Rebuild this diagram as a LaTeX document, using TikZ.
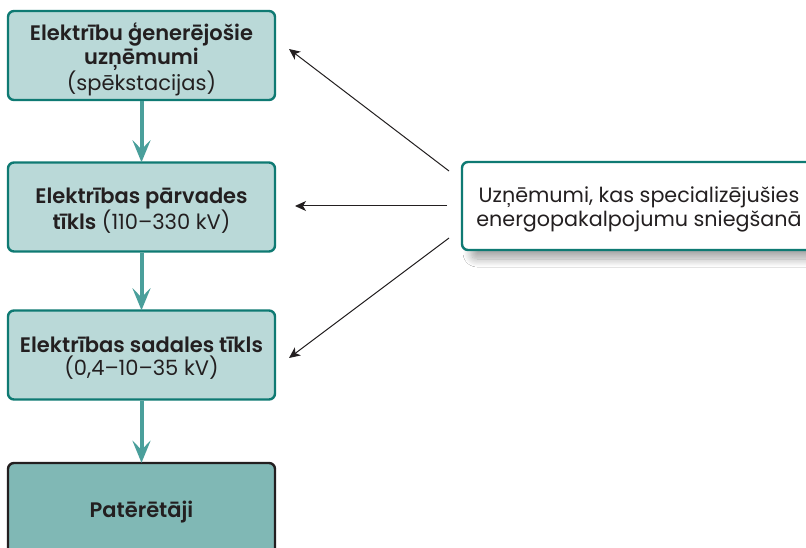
\documentclass[tikz,border=0pt]{standalone}
\usepackage{fontspec}
\setmainfont{Poppins}[BoldFont={Poppins SemiBold}]
\usetikzlibrary{arrows.meta,shadows.blur}
\definecolor{boxfill}{HTML}{BAD9D8}
\definecolor{boxline}{HTML}{0F7A73}
\definecolor{endfill}{HTML}{80B8B5}
\definecolor{flow}{HTML}{4A9F9B}
\definecolor{ink}{HTML}{231F20}
\tikzset{
  boxtext/.style={align=center, text=ink, inner sep=0pt, font=\fontsize{21}{23.5}\selectfont},
  stagebox/.style={draw=boxline, line width=2.4pt, fill=boxfill, rounded corners=6pt,
    minimum width=267pt, minimum height=89pt},
  endbox/.style={stagebox, draw=ink, fill=endfill, minimum height=98pt},
  infobox/.style={draw=boxline, line width=2.4pt, fill=white, rounded corners=6pt,
    minimum width=354pt, minimum height=88pt,
    blur shadow={shadow xshift=9pt, shadow yshift=-9pt, shadow opacity=35, shadow blur steps=12, shadow blur radius=8pt}},
  flowarrow/.style={draw=flow, line width=4pt, -{Stealth[length=22pt,width=18pt,inset=9pt]}},
  linkarrow/.style={draw=ink, line width=1pt, -{Stealth[length=11pt,width=10pt,inset=3pt]}}
}
\begin{document}
\begin{tikzpicture}[x=1pt,y=-1pt]
\useasboundingbox[fill=white] (0,0) rectangle (806,548);
\node[stagebox, label={[boxtext, yshift=-4pt]center:{\textbf{Elektrību ģenerējošie}\\\textbf{uzņēmumi}\\(spēkstacijas)}}] (gen) at (141.5,55.5) {};
\node[stagebox, label={[boxtext, yshift=-4pt]center:{\textbf{Elektrības pārvades}\\\textbf{tīkls} (110–330 kV)}}] (trans) at (141.5,207) {};
\node[stagebox, label={[boxtext, yshift=-3pt]center:{\textbf{Elektrības sadales tīkls}\\(0,4–10–35 kV)}}] (dist) at (141.5,355) {};
\node[endbox, label={[boxtext]center:{\textbf{Patērētāji}}}] (cons) at (141.5,512) {};
\node[infobox, label={[boxtext, font=\fontsize{20.7}{23.5}\selectfont, yshift=-3.5pt]center:{Uzņēmumi, kas specializējušies\\energopakalpojumu sniegšanā}}] (serv) at (639,206) {};
\draw[flowarrow] (gen.south) -- ([yshift=-1pt]trans.north);
\draw[flowarrow] (trans.south) -- ([yshift=-1pt]dist.north);
\draw[flowarrow] (dist.south) -- ([yshift=-1pt]cons.north);
\coordinate (s1) at (449,171);
\coordinate (e1) at (289,49);
\coordinate (s2) at (447,206);
\coordinate (e2) at (295,206);
\coordinate (s3) at (449,238);
\coordinate (e3) at (289,358);
\draw[linkarrow] (s1) -- (e1);
\draw[linkarrow] (s2) -- (e2);
\draw[linkarrow] (s3) -- (e3);
\end{tikzpicture}
\end{document}
